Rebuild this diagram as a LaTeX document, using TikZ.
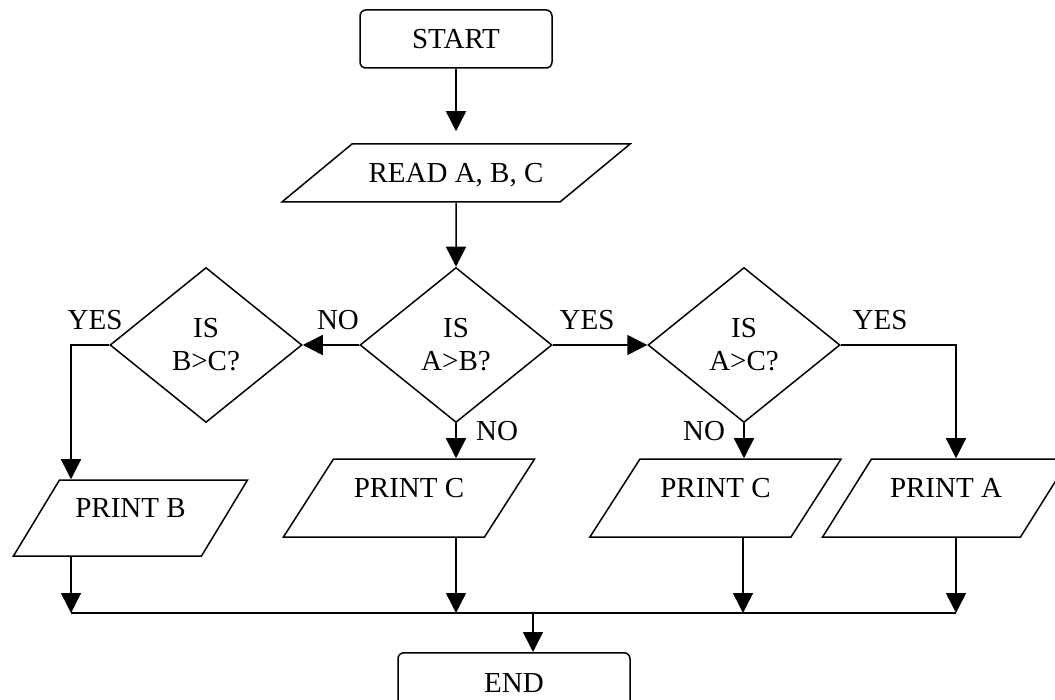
\documentclass[tikz,border=0pt]{standalone}
\usepackage{fontspec}
\setmainfont{Liberation Serif}
\usetikzlibrary{shapes.geometric,arrows.meta}

\begin{document}
\begin{tikzpicture}[x=1pt,y=-1pt,line width=1.5pt,
  every node/.style={font=\fontsize{29}{33}\selectfont},
  term/.style={draw,rounded corners=6pt,minimum width=#1,minimum height=58pt,inner sep=0pt},
  decide/.style={draw,diamond,minimum width=192pt,minimum height=155pt,inner sep=0pt,align=center},
  inout/.style={draw,trapezium,trapezium left angle=#1,trapezium right angle={180-#1},
    inner xsep=0pt,inner ysep=19pt,text height=20pt,text depth=0pt,align=flush center},
  printbox/.style={inout=#1,inner ysep=18pt,text depth=22pt},
  flow/.style={-{Triangle[length=20pt,width=20pt]}}]
\useasboundingbox (0,0) rectangle (1055,700);
\clip (0,0) rectangle (1055,700);

\node[term=192pt] (start) at (456,39) {START};
\node[inout=39.6,text width=208pt] (read) at (456,173) {READ A, B, C};

\node[decide] (qbc) at (206,345) {IS\\B>C?};
\node[decide] (qab) at (456,345) {IS\\A>B?};
\node[decide] (qac) at (744,345) {IS\\A>C?};

\node[printbox=58.8,inner ysep=17pt,text width=142pt] (printb) at (130.5,518) {PRINT B};
\node[printbox=57.3,text width=151pt] (printc) at (409,498) {PRINT C};
\node[printbox=57.3,text width=151pt] (printcc) at (715.5,498) {PRINT C};
\node[printbox=57.9,text width=149pt] (printa) at (946,498) {PRINT A};

\node[term=232pt,anchor=north,minimum height=60pt] (finish) at (514,652) {END};

\node (yesbc) at (95,320) {YES};
\node (noab) at (338,320) {NO};
\node (yesab) at (587,320) {YES};
\node (yesac) at (880,320) {YES};
\node (noabdown) at (497,431) {NO};
\node (noacdown) at (704,431) {NO};

\coordinate (jb) at (71,613);
\coordinate (jc) at (456,613);
\coordinate (jcc) at (743,613);
\coordinate (ja) at (956,613);
\coordinate (jend) at (533,613);

\draw[flow,shorten >=12pt] (start) -- (read);
\draw[flow] (read) -- (qab);
\draw[flow] (qab.west) -- (qbc.east);
\draw[flow] (qab.east) -- (qac.west);
\draw[flow] (qbc.west) -| (printb.north -| jb);
\draw[flow] (qac.east) -| (printa.north -| ja);
\draw[flow] (qab.south) -- (qab.south |- printc.north);
\draw[flow] (qac.south) -- (qac.south |- printcc.north);

\draw[flow] (printb.south -| jb) -- (jb);
\draw[flow] (printc.south -| jc) -- (jc);
\draw[flow] (printcc.south -| jcc) -- (jcc);
\draw[flow] (printa.south -| ja) -- (ja);
\draw (jb) -- (ja);
\draw[flow] (jend) -- (jend |- finish.north);

\end{tikzpicture}
\end{document}
